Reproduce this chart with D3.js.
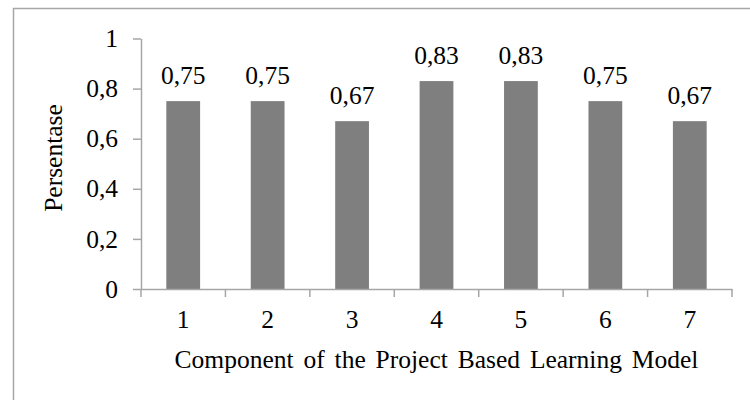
<!DOCTYPE html>
<html>
<head>
<meta charset="utf-8">
<script src="https://cdn.jsdelivr.net/npm/d3@7"></script>
<style>
  body { margin: 0; background: #fff; }
  svg text { font-family: "Liberation Serif", "Times New Roman", serif; fill: #000; }
</style>
</head>
<body>
<div id="container"></div>
<script>
/* DATA */
const components = ["1", "2", "3", "4", "5", "6", "7"];
const values = [0.75, 0.75, 0.67, 0.83, 0.83, 0.75, 0.67];
const yTicks = [0, 0.2, 0.4, 0.6, 0.8, 1];

/* CONSTANTS */
const width = 750, height = 400;
const plot = { left: 141, right: 732, top: 38.5, bottom: 289 };
const axisColor = "#a6a6a6";
const fontSize = 25.5;
const fmt = d => String(d).replace(".", ",");

const svg = d3.select("#container")
  .append("svg")
  .attr("width", width)
  .attr("height", height);

// outer chart border (cut off at right/bottom)
svg.append("rect")
  .attr("x", 13.5).attr("y", 8.5)
  .attr("width", 760).attr("height", 420)
  .attr("fill", "none")
  .attr("stroke", axisColor)
  .attr("stroke-width", 1.5);

const x = d3.scaleBand()
  .domain(components)
  .range([plot.left, plot.right])
  .padding(0);

const y = d3.scaleLinear()
  .domain([0, 1])
  .range([plot.bottom, plot.top]);

const barW = x.bandwidth() * 0.4;

// bars
svg.selectAll(".bar")
  .data(values)
  .enter()
  .append("rect")
  .attr("class", "bar")
  .attr("x", (d, i) => x(components[i]) + (x.bandwidth() - barW) / 2)
  .attr("y", d => y(d))
  .attr("width", barW)
  .attr("height", d => y(0) - y(d))
  .attr("fill", "#7f7f7f");

// value labels
svg.selectAll(".val")
  .data(values)
  .enter()
  .append("text")
  .attr("class", "val")
  .attr("x", (d, i) => x(components[i]) + x.bandwidth() / 2)
  .attr("y", d => y(d) - 17)
  .attr("text-anchor", "middle")
  .attr("font-size", fontSize)
  .text(fmt);

// Y axis
const yAxis = svg.append("g")
  .attr("transform", `translate(${plot.left},0)`)
  .call(d3.axisLeft(y).tickValues(yTicks).tickFormat(fmt).tickSize(8).tickSizeOuter(0).tickPadding(15));
yAxis.attr("font-family", null).attr("font-size", fontSize);
yAxis.selectAll("path, line").attr("stroke", axisColor).attr("stroke-width", 1.5);

// X axis
const xAxis = svg.append("g")
  .attr("transform", `translate(0,${plot.bottom})`)
  .call(d3.axisBottom(x).tickSize(0).tickSizeOuter(0).tickPadding(0));
xAxis.attr("font-family", null).attr("font-size", fontSize);
xAxis.select(".domain").attr("stroke", axisColor).attr("stroke-width", 1.5);
xAxis.selectAll("text").attr("y", 39).attr("dy", 0);
// boundary tick marks between categories
const bounds = components.map(c => x(c)).concat([x.range()[1]]);
xAxis.selectAll(".bound")
  .data(bounds)
  .enter()
  .append("line")
  .attr("class", "bound")
  .attr("x1", d => d).attr("x2", d => d)
  .attr("y1", 0).attr("y2", 8)
  .attr("stroke", axisColor).attr("stroke-width", 1.5);

// axis titles
svg.append("text")
  .attr("x", (plot.left + plot.right) / 2)
  .attr("y", 368)
  .attr("text-anchor", "middle")
  .attr("font-size", fontSize)
  .attr("word-spacing", 3.5)
  .text("Component of the Project Based Learning Model");

svg.append("text")
  .attr("transform", `translate(62,158) rotate(-90)`)
  .attr("text-anchor", "middle")
  .attr("font-size", fontSize)
  .text("Persentase");
</script>
</body>
</html>
